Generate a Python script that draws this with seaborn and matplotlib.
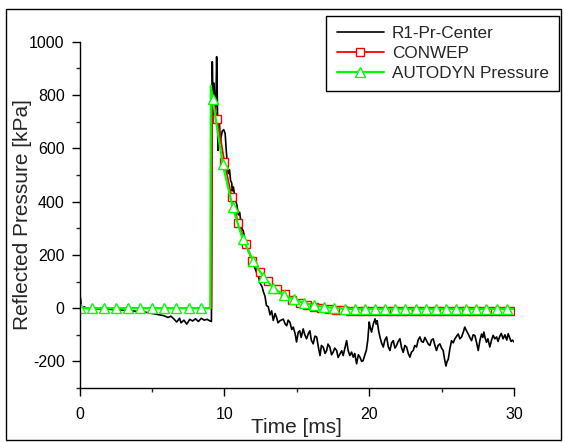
import numpy as np
import pandas as pd
import seaborn as sns
import matplotlib.pyplot as plt
from matplotlib.ticker import MultipleLocator
from matplotlib.patches import Rectangle

t_r1 = [0.0, 0.05, 0.15, 0.3, 0.5, 1.0, 1.5, 2.0, 2.5, 3.0, 3.5, 4.0, 4.5, 5.0, 5.4, 5.8,
        6.1, 6.3, 6.5, 6.7, 6.9, 7.0, 7.2, 7.4, 7.6, 7.8, 8.0, 8.2, 8.4, 8.6, 8.8, 9.0, 9.1,
        9.12, 9.16, 9.22, 9.28, 9.35, 9.42, 9.46, 9.5, 9.55, 9.6, 9.66, 9.72, 9.76, 9.85, 9.95,
        10.05, 10.12, 10.2, 10.26, 10.35, 10.42, 10.5, 10.54, 10.62, 10.73, 10.85, 10.96, 11.05,
        11.19, 11.3, 11.42, 11.55, 11.65, 11.76, 11.9, 12.0, 12.1, 12.25, 12.35, 12.45, 12.6,
        12.7, 12.8, 12.9, 13.03, 13.15, 13.26, 13.37, 13.5, 13.6, 13.7, 13.84, 14.06, 14.2, 14.3,
        14.4, 14.52, 14.65, 14.75, 14.88, 14.98, 15.1, 15.2, 15.3, 15.44, 15.55, 15.67, 15.8,
        15.9, 16.0, 16.13, 16.25, 16.37, 16.5, 16.6, 16.7, 16.82, 16.95, 17.06, 17.15, 17.28,
        17.4, 17.5, 17.62, 17.75, 17.85, 17.98, 18.1, 18.2, 18.32, 18.44, 18.55, 18.66, 18.78,
        18.9, 19.0, 19.13, 19.25, 19.36, 19.48, 19.58, 19.7, 19.8, 19.9, 20.0, 20.08, 20.16,
        20.28, 20.4, 20.48, 20.55, 20.65, 20.74, 20.85, 20.97, 21.08, 21.2, 21.32, 21.43, 21.55,
        21.66, 21.78, 21.89, 22.0, 22.12, 22.24, 22.35, 22.46, 22.58, 22.7, 22.81, 22.92, 23.04,
        23.15, 23.27, 23.38, 23.5, 23.62, 23.73, 23.85, 23.96, 24.08, 24.19, 24.3, 24.42, 24.54,
        24.65, 24.76, 24.88, 25.0, 25.11, 25.2, 25.3, 25.38, 25.46, 25.58, 25.69, 25.8, 25.92,
        26.04, 26.15, 26.26, 26.38, 26.5, 26.6, 26.72, 26.84, 26.95, 27.07, 27.18, 27.3, 27.42,
        27.53, 27.65, 27.76, 27.85, 27.92, 28.0, 28.1, 28.2, 28.33, 28.45, 28.56, 28.68, 28.8,
        28.9, 29.0, 29.12, 29.25, 29.38, 29.5, 29.6, 29.7, 29.8, 29.9, 30.0]
p_r1 = [0, 40, -10, 5, 0, -2, -3, -4, -6, -8, -10, -12, -15, -20, -24, -28,
        -35, -30, -40, -52, -38, -55, -45, -60, -42, -48, -40, -50, -38, -45, -42, -48, -50,
        300, 925, 700, 845, 718, 800, 944, 818, 592, 700, 690, 620, 640, 665, 670,
        655, 595, 540, 505, 520, 480, 470, 440, 455, 410, 390, 350, 360,
        300, 290, 255, 245, 215, 205, 180, 170, 150, 130, 120, 95, 80,
        60, 45, 10, 5, -25, -10, -46, -20, -35, -55, -47, -41, -60, -66,
        -45, -53, -80, -71, -95, -127, -90, -85, -110, -78, -100, -115, -95,
        -85, -120, -134, -105, -108, -150, -178, -140, -146, -170, -159, -135, -146,
        -175, -166, -150, -159, -185, -172, -160, -178, -150, -122, -160, -178, -165,
        -184, -170, -209, -175, -184, -200, -197, -175, -159, -120, -52, -75, -90,
        -60, -40, -60, -47, -85, -108, -130, -146, -120, -108, -145, -159, -130,
        -122, -150, -140, -125, -115, -150, -166, -140, -146, -170, -184, -165, -159,
        -140, -146, -120, -108, -125, -128, -110, -122, -135, -140, -120, -115, -140,
        -159, -140, -134, -150, -159, -190, -217, -200, -192, -150, -122, -130, -115,
        -105, -97, -115, -108, -90, -71, -85, -97, -110, -122, -100, -103, -130,
        -159, -120, -97, -110, -90, -110, -128, -115, -146, -120, -102, -115, -108,
        -125, -108, -95, -115, -100, -120, -96, -110, -125, -120, -127]

# CONWEP
t_conwep = [0.0, 9.1, 9.15, 9.5, 10.0, 10.5, 10.95, 11.48, 11.92, 12.45, 13.0, 13.6, 14.18,
            14.7, 15.2, 15.7, 16.2, 16.7, 17.2, 17.7, 18.2, 18.7, 19.2, 19.7, 20.2, 20.7,
            21.2, 21.7, 22.2, 22.7, 23.2, 23.7, 24.2, 24.7, 25.2, 25.7, 26.2, 26.7, 27.2,
            27.7, 28.2, 28.7, 29.2, 29.7, 30.0]
p_conwep = [0, 0, 800, 709, 548, 416, 318, 241, 178, 134, 103, 71, 53,
            30, 20, 12, 5, 0, -4, -6, -8, -9, -10, -10, -10, -10,
            -10, -10, -10, -10, -10, -10, -10, -10, -10, -10, -10, -10, -10,
            -10, -10, -10, -10, -10, -10]

# AUTODYN Pressure
t_autodyn = [0.0, 0.83, 1.67, 2.5, 3.34, 4.17, 5.0, 5.85, 6.68, 7.52, 8.36, 9.02, 9.06,
             9.18, 9.87, 10.57, 11.26, 12.0, 12.68, 13.37, 14.08, 14.8, 15.5, 16.18, 16.9,
             17.56, 18.3, 19.0, 19.7, 20.4, 21.1, 21.8, 22.5, 23.2, 23.9, 24.6, 25.3, 26.0,
             26.7, 27.4, 28.1, 28.8, 29.5, 30.0]
p_autodyn = [0, 0, 0, 0, 0, 0, 0, 0, 0, 0, 0, 0, 835,
             787, 543, 378, 259, 176, 118, 77, 50, 33, 20, 11, 5,
             1, -2, -3, -3, -3, -3, -3, -3, -3, -3, -3, -3, -3,
             -3, -3, -3, -3, -3, -3]

sns.set_style('ticks')
plt.rcParams['font.family'] = ['Liberation Sans', 'DejaVu Sans']
plt.rcParams['axes.unicode_minus'] = False

fig = plt.figure(figsize=(5.64, 4.42), dpi=100)
ax = fig.add_axes([0.1413, 0.122, 0.770, 0.7835])

sns.lineplot(x=t_r1, y=p_r1, ax=ax, color='black', lw=1.2, estimator=None,
             sort=False, label='R1-Pr-Center')
sns.lineplot(x=t_conwep, y=p_conwep, ax=ax, color='#ff0000', lw=1.3, estimator=None,
             sort=False, marker='s', ms=6, mfc='white', mec='#ff0000', mew=1.0,
             markevery=list(range(3, len(t_conwep) - 1)), label='CONWEP')
sns.lineplot(x=t_autodyn, y=p_autodyn, ax=ax, color='#00ff00', lw=1.6, estimator=None,
             sort=False, marker='^', ms=7, mfc='white', mec='#00ff00', mew=1.0,
             markevery=[i for i in range(len(t_autodyn) - 1) if i not in (11, 12)],
             label='AUTODYN Pressure')

ax.set_xlim(0, 30)
ax.set_ylim(-300, 1000)
ax.xaxis.set_major_locator(MultipleLocator(10))
ax.xaxis.set_minor_locator(MultipleLocator(5))
ax.yaxis.set_major_locator(MultipleLocator(200))
ax.yaxis.set_minor_locator(MultipleLocator(100))
sns.despine(ax=ax)
for s in ['left', 'bottom']:
    ax.spines[s].set_linewidth(1.0)
    ax.spines[s].set_color('black')
ax.tick_params(which='major', direction='out', length=5.8, width=1.0, labelsize=11.5,
               colors='black')
ax.tick_params(which='minor', direction='out', length=3.0, width=1.0)
ax.tick_params(axis='x', which='major', pad=8)
ax.tick_params(axis='y', which='major', pad=5)

ax.set_xlabel('Time [ms]', fontsize=15)
ax.set_ylabel('Reflected Pressure [kPa]', fontsize=15)
ax.xaxis.set_label_coords(0.5, -0.085)
ax.yaxis.set_label_coords(-0.11, 0.5)

leg = ax.legend(loc='upper right', bbox_to_anchor=(559.3 / 564, 1 - 15.7 / 442),
                bbox_transform=fig.transFigure, borderaxespad=0, fontsize=12.3,
                frameon=True, fancybox=False, framealpha=1, edgecolor='black',
                handlelength=2.8, handletextpad=0.45, labelspacing=0.3, borderpad=0.6)
leg.get_frame().set_linewidth(1.0)

fig.patches.append(Rectangle((0.0115, 0.004), 0.984, 0.975, transform=fig.transFigure,
                             fill=False, edgecolor='black', lw=1.0))

fig.savefig('out.png', dpi=100)
